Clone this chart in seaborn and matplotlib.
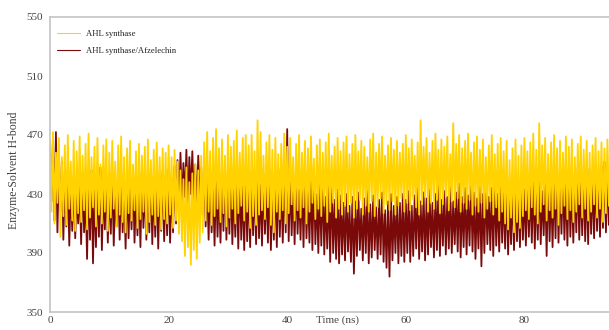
import numpy as np
import pandas as pd
import matplotlib
matplotlib.use("Agg")
import matplotlib.pyplot as plt
import seaborn as sns

# H-bond counts every 0.5 ns: upper and lower swing
time_ns = np.arange(0, 95, 0.5)

synthase_hi = [
    466, 472, 458, 468, 455, 463, 470, 452, 466, 459, 469, 456, 464, 471, 455, 462, 468, 450, 463, 467,
    458, 466, 452, 463, 469, 455, 461, 466, 450, 459, 464, 456, 462, 467, 453, 460, 465, 455, 461, 458,
    463, 455, 460, 452, 446, 440, 448, 438, 444, 450, 446, 456, 465, 472, 459, 468, 474, 461, 467, 456,
    470, 462, 466, 473, 458, 468, 470, 463, 470, 459, 480, 472, 456, 465, 470, 460, 468, 457, 464, 471,
    462, 468, 455, 464, 470, 458, 466, 461, 469, 454, 463, 467, 458, 465, 471, 456, 462, 468, 459, 465,
    469, 457, 464, 470, 459, 466, 462, 455, 467, 471, 458, 464, 469, 456, 463, 468, 460, 466, 458, 464,
    470, 461, 467, 456, 465, 480, 462, 468, 458, 466, 471, 460, 467, 462, 469, 457, 478, 464, 470, 461,
    466, 471, 458, 465, 469, 460, 467, 455, 463, 470, 457, 464, 468, 459, 466, 453, 461, 467, 456, 463,
    468, 459, 465, 471, 460, 478, 463, 468, 457, 465, 470, 461, 466, 458, 469, 462, 467, 455, 464, 469,
    460, 466, 458, 463, 468, 459, 465, 461, 467, 458,
]
synthase_lo = [
    418, 410, 424, 401, 415, 409, 420, 412, 405, 417, 411, 419, 406, 414, 421, 408, 416, 410, 418, 405,
    414, 420, 408, 416, 411, 404, 417, 412, 419, 407, 413, 418, 403, 411, 416, 409, 415, 406, 413, 410,
    416, 407, 412, 403, 398, 388, 394, 382, 392, 386, 397, 404, 412, 418, 409, 415, 420, 411, 417, 408,
    414, 420, 410, 417, 422, 412, 418, 407, 415, 409, 416, 419, 413, 421, 409, 404, 418, 413, 419, 410,
    417, 423, 412, 419, 414, 421, 410, 418, 424, 413, 420, 415, 422, 411, 418, 424, 414, 420, 416, 422,
    418, 424, 414, 420, 426, 416, 422, 418, 425, 415, 421, 427, 417, 423, 419, 425, 416, 422, 427, 418,
    424, 419, 426, 421, 416, 423, 428, 418, 424, 420, 426, 417, 423, 428, 419, 425, 421, 427, 418, 424,
    420, 426, 416, 422, 418, 424, 414, 420, 425, 416, 421, 412, 418, 410, 406, 414, 404, 411, 407, 415,
    419, 413, 421, 416, 410, 418, 423, 412, 419, 414, 420, 409, 417, 422, 413, 419, 411, 418, 423, 414,
    420, 412, 418, 423, 414, 420, 411, 417, 422, 415,
]
complex_hi = [
    445, 468, 472, 448, 452, 440, 446, 435, 441, 430, 438, 444, 432, 439, 446, 434, 441, 448, 436, 443,
    437, 444, 431, 439, 446, 433, 440, 436, 443, 430, 438, 445, 434, 441, 447, 436, 443, 439, 446, 441,
    447, 440, 449, 453, 458, 451, 460, 455, 459, 450, 456, 448, 444, 438, 443, 436, 441, 434, 440, 446,
    437, 443, 433, 440, 446, 435, 442, 438, 445, 440, 447, 436, 443, 439, 446, 434, 441, 447, 437, 444,
    474, 443, 438, 445, 433, 440, 446, 432, 439, 444, 430, 437, 441, 428, 435, 440, 426, 433, 429, 424,
    430, 422, 428, 425, 431, 420, 427, 432, 423, 429, 421, 426, 431, 419, 425, 430, 422, 428, 424, 430,
    426, 432, 422, 429, 434, 425, 431, 427, 433, 424, 430, 436, 426, 432, 428, 435, 425, 431, 437, 428,
    434, 429, 436, 431, 427, 435, 430, 437, 428, 434, 439, 430, 436, 432, 438, 429, 435, 440, 431, 437,
    433, 439, 435, 441, 436, 443, 432, 438, 444, 435, 440, 446, 437, 443, 439, 445, 436, 442, 448, 438,
    444, 440, 447, 441, 446, 443, 449, 452, 446, 455,
]
complex_lo = [
    425, 412, 404, 418, 399, 408, 395, 405, 400, 410, 396, 404, 386, 399, 383, 394, 401, 392, 406, 397,
    403, 395, 408, 399, 404, 393, 400, 406, 397, 402, 394, 407, 399, 404, 396, 401, 393, 405, 398, 402,
    397, 404, 410, 418, 424, 428, 422, 430, 426, 420, 424, 416, 408, 399, 404, 395, 401, 397, 405, 399,
    403, 396, 401, 393, 399, 392, 398, 394, 402, 396, 400, 395, 403, 397, 392, 399, 394, 401, 397, 404,
    398, 402, 396, 403, 399, 394, 400, 397, 392, 396, 390, 395, 389, 393, 384, 390, 386, 383, 389, 385,
    391, 384, 376, 388, 392, 385, 390, 383, 387, 392, 386, 389, 384, 380, 374, 385, 390, 383, 388, 384,
    390, 384, 388, 393, 386, 391, 385, 389, 394, 387, 392, 388, 395, 389, 393, 390, 396, 391, 387, 394,
    389, 395, 391, 386, 393, 381, 390, 396, 392, 388, 395, 391, 397, 393, 389, 396, 392, 398, 394, 399,
    395, 401, 397, 393, 399, 396, 402, 388, 398, 394, 400, 397, 403, 399, 395, 401, 397, 404, 399, 402,
    398, 396, 403, 400, 405, 401, 407, 404, 409, 412,
]

labels = ["AHL synthase", "AHL synthase/Afzelechin"]
colors = ["#FFD200", "#7A0A0A"]
y_ticks = [350, 390, 430, 470, 510, 550]
x_ticks = [0, 20, 40, 60, 80]


def trace(hi, lo):
    # alternate peak / trough so the line looks like the dense MD trace
    t = np.column_stack([time_ns, time_ns + 0.25]).ravel()
    v = np.column_stack([hi, lo]).ravel()
    return pd.DataFrame({"time": t, "hbond": v})


sns.set_theme(style="white")
plt.rcParams["font.family"] = ["Liberation Serif", "DejaVu Serif"]
text_col = "#444444"

fig = plt.figure(figsize=(6.09, 3.30), dpi=100)
# axis runs to 100 ns; the picture is cut off on the right like the original
ax = fig.add_axes([50 / 609, 18 / 330, 593 / 609, 295 / 330])

df_c = trace(complex_hi, complex_lo)
df_s = trace(synthase_hi, synthase_lo)
sns.lineplot(data=df_c, x="time", y="hbond", ax=ax, color=colors[1], lw=1.3,
             estimator=None, sort=False, label=labels[1])
sns.lineplot(data=df_s, x="time", y="hbond", ax=ax, color=colors[0], lw=1.3,
             estimator=None, sort=False, label=labels[0])

ax.set_xlim(0, 100)
ax.set_ylim(350, 550)
ax.set_xticks(x_ticks)
ax.set_yticks(y_ticks)
ax.tick_params(length=0, labelsize=8, labelcolor=text_col)
ax.tick_params(axis="x", pad=3)
ax.tick_params(axis="y", pad=5)

for s in ax.spines.values():
    s.set_color("#c4c4c4")
    s.set_linewidth(1.2)

ax.set_xlabel("Time (ns)", fontsize=8, color=text_col, va="top")
ax.xaxis.set_label_coords(0.484, -0.012)
ax.set_ylabel("Enzyme-Solvent H-bond", fontsize=8.5, color=text_col)
ax.yaxis.set_label_coords(-0.05, 0.48)

h, l = ax.get_legend_handles_labels()
leg = ax.legend(h[::-1], l[::-1], loc="upper left", bbox_to_anchor=(0.012, 0.955),
                frameon=False, fontsize=6.2, borderpad=0, borderaxespad=0,
                handlelength=2.7, handletextpad=0.6, labelspacing=1.0)
for t in leg.get_texts():
    t.set_color("#222222")
for ln in leg.get_lines():
    ln.set_linewidth(0.8)

fig.savefig("out.png", dpi=100)
